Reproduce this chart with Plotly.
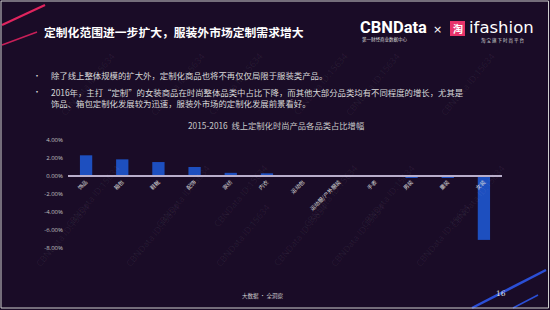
import plotly.graph_objects as go

# Category share change, 2015 -> 2016 (percentage points)
categories = ["饰品", "箱包", "鞋靴", "配饰", "家纺", "内衣", "运动包",
              "运动服/户外服装", "手表", "男装", "童装", "女装"]
growth = [2.3, 1.85, 1.55, 1.0, 0.35, 0.3, 0.03, 0.02, -0.02, -0.2, -0.2, -7.1]
y_ticks = [4, 2, 0, -2, -4, -6, -8]
y_tick_labels = ["4.00%", "2.00%", "0.00%", "-2.00%", "-4.00%", "-6.00%", "-8.00%"]

title_text = "定制化范围进一步扩大，服装外市场定制需求增大"
bullets = [
    "除了线上整体规模的扩大外，定制化商品也将不再仅仅局限于服装类产品。",
    "2016年，主打“定制”的女装商品在时尚整体品类中占比下降，而其他大部分品类均有不同程度的增长，尤其是<br>"
    "饰品、箱包定制化发展较为迅速，服装外市场的定制化发展前景看好。",
]
chart_title = "2015-2016  线上定制化时尚产品各品类占比增幅"

BG = "#1a0c27"
CJK = "Noto Sans CJK SC"
W, H = 550, 310
L, R, T, B = 68, 48, 140, 62
PW, PH = W - L - R, H - T - B

fig = go.Figure()
fig.add_trace(go.Bar(
    x=categories, y=growth,
    marker=dict(color="#1d4fbf", line=dict(width=0)),
    hoverinfo="skip",
))


# paper coordinates span the plot area; convert slide pixels into them
def px(x):
    return (x - L) / PW


def py(y):
    return (H - B - y) / PH


ann = []
shapes = []

# faint diagonal watermark grid
for row_y, xs in [(48, [55, 145, 235, 320, 405, 500]),
                  (160, [60, 150, 240, 330, 420, 510]),
                  (272, [30, 120, 210, 300, 390, 475])]:
    for wx in xs:
        ann.append(dict(x=px(wx), y=py(row_y), xref="paper", yref="paper",
                        text="CBNData ID:15634", showarrow=False, textangle=-50,
                        font=dict(family="Open Sans", size=9, color="rgba(255,255,255,0.07)")))

# slide heading
ann.append(dict(x=px(42), y=py(31), xref="paper", yref="paper", xanchor="left", yanchor="middle",
                text="<b>" + title_text + "</b>", showarrow=False,
                font=dict(family=CJK, size=11.8, color="#ffffff")))

# CBNData logo
ann.append(dict(x=px(358), y=py(28), xref="paper", yref="paper", xanchor="left", yanchor="middle",
                text="<b>CBNData</b>", showarrow=False,
                font=dict(family="Roboto", size=16.5, color="#ffffff")))
ann.append(dict(x=px(360), y=py(39), xref="paper", yref="paper", xanchor="left", yanchor="middle",
                text="第一财经商业数据中心", showarrow=False,
                font=dict(family=CJK, size=4.5, color="#dddddd")))
ann.append(dict(x=px(437), y=py(29), xref="paper", yref="paper", xanchor="center", yanchor="middle",
                text="×", showarrow=False,
                font=dict(family="DejaVu Sans", size=11, color="#ffffff")))
shapes.append(dict(type="rect", xref="paper", yref="paper",
                   x0=px(450), x1=px(465), y0=py(21), y1=py(36),
                   fillcolor="#e8336b", line=dict(width=0), layer="above"))
ann.append(dict(x=px(457.5), y=py(28.5), xref="paper", yref="paper", xanchor="center", yanchor="middle",
                text="<b>淘</b>", showarrow=False,
                font=dict(family=CJK, size=10, color="#ffffff")))
ann.append(dict(x=px(467), y=py(27), xref="paper", yref="paper", xanchor="left", yanchor="middle",
                text="ifashion", showarrow=False,
                font=dict(family="DejaVu Sans", size=16.5, color="#ffffff")))
ann.append(dict(x=px(479), y=py(40), xref="paper", yref="paper", xanchor="left", yanchor="middle",
                text="淘 宝 旗 下 时 尚 平 台", showarrow=False,
                font=dict(family=CJK, size=4.5, color="#dddddd")))

# bullet points
for dot_y, by, txt in [(75, 75, bullets[0]), (91.5, 97.5, bullets[1])]:
    ann.append(dict(x=px(31), y=py(dot_y), xref="paper", yref="paper",
                    xanchor="left", yanchor="middle", text="•", showarrow=False,
                    font=dict(family=CJK, size=8, color="#d8d8d8")))
    ann.append(dict(x=px(49), y=py(by), xref="paper", yref="paper", xanchor="left", yanchor="middle",
                    text=txt, showarrow=False, align="left",
                    font=dict(family=CJK, size=8.4, color="#d8d8d8")))

# chart title
ann.append(dict(x=px(276), y=py(125), xref="paper", yref="paper", xanchor="center", yanchor="middle",
                text=chart_title, showarrow=False,
                font=dict(family=CJK, size=8.3, color="#c8c8c8")))

# footer
ann.append(dict(x=px(262), y=py(296), xref="paper", yref="paper", xanchor="center", yanchor="middle",
                text="大数据 · 全洞察", showarrow=False,
                font=dict(family=CJK, size=5.5, color="#d0d0d0")))
ann.append(dict(x=px(501), y=py(293), xref="paper", yref="paper", xanchor="center", yanchor="middle",
                text="16", showarrow=False,
                font=dict(family="DejaVu Serif", size=7.5, color="#e0e0e0")))

# decorative strokes
for (x0, y0, x1, y1, c, w) in [(2, 25, 45, 5, "#e0245e", 2.2), (2, 45, 37, 32, "#c81f58", 1.6),
                                (472, 308, 546, 270, "#2b4fd6", 2.5), (513, 308, 538, 295, "#2b4fd6", 1.5)]:
    shapes.append(dict(type="line", xref="paper", yref="paper",
                       x0=px(x0), y0=py(y0), x1=px(x1), y1=py(y1),
                       line=dict(color=c, width=w), layer="below"))

# thin slide frame
shapes.append(dict(type="rect", xref="paper", yref="paper",
                   x0=px(1), x1=px(548.5), y0=py(1), y1=py(308),
                   line=dict(color="#cfcfcf", width=1), fillcolor="rgba(0,0,0,0)", layer="above"))

fig.update_layout(
    width=W, height=H,
    margin=dict(l=L, r=R, t=T, b=B),
    paper_bgcolor=BG, plot_bgcolor=BG,
    showlegend=False,
    bargap=0.66,
    annotations=ann,
    shapes=shapes,
    xaxis=dict(
        anchor="free", position=8 / 12,
        showline=True, linecolor="#b9aecb", linewidth=1.5,
        showgrid=False, zeroline=False, ticks="",
        tickangle=-45, tickfont=dict(family=CJK, size=5.5, color="#dcdcdc"),
        fixedrange=True,
    ),
    yaxis=dict(
        range=[-8, 4], tickvals=y_ticks, ticktext=y_tick_labels,
        showgrid=False, zeroline=False, showline=False, ticks="",
        tickfont=dict(family="Open Sans", size=6, color="#c0c0c0"),
        ticklabelstandoff=4,
        fixedrange=True,
    ),
)

fig.write_html("out.html", config={"displayModeBar": False})
